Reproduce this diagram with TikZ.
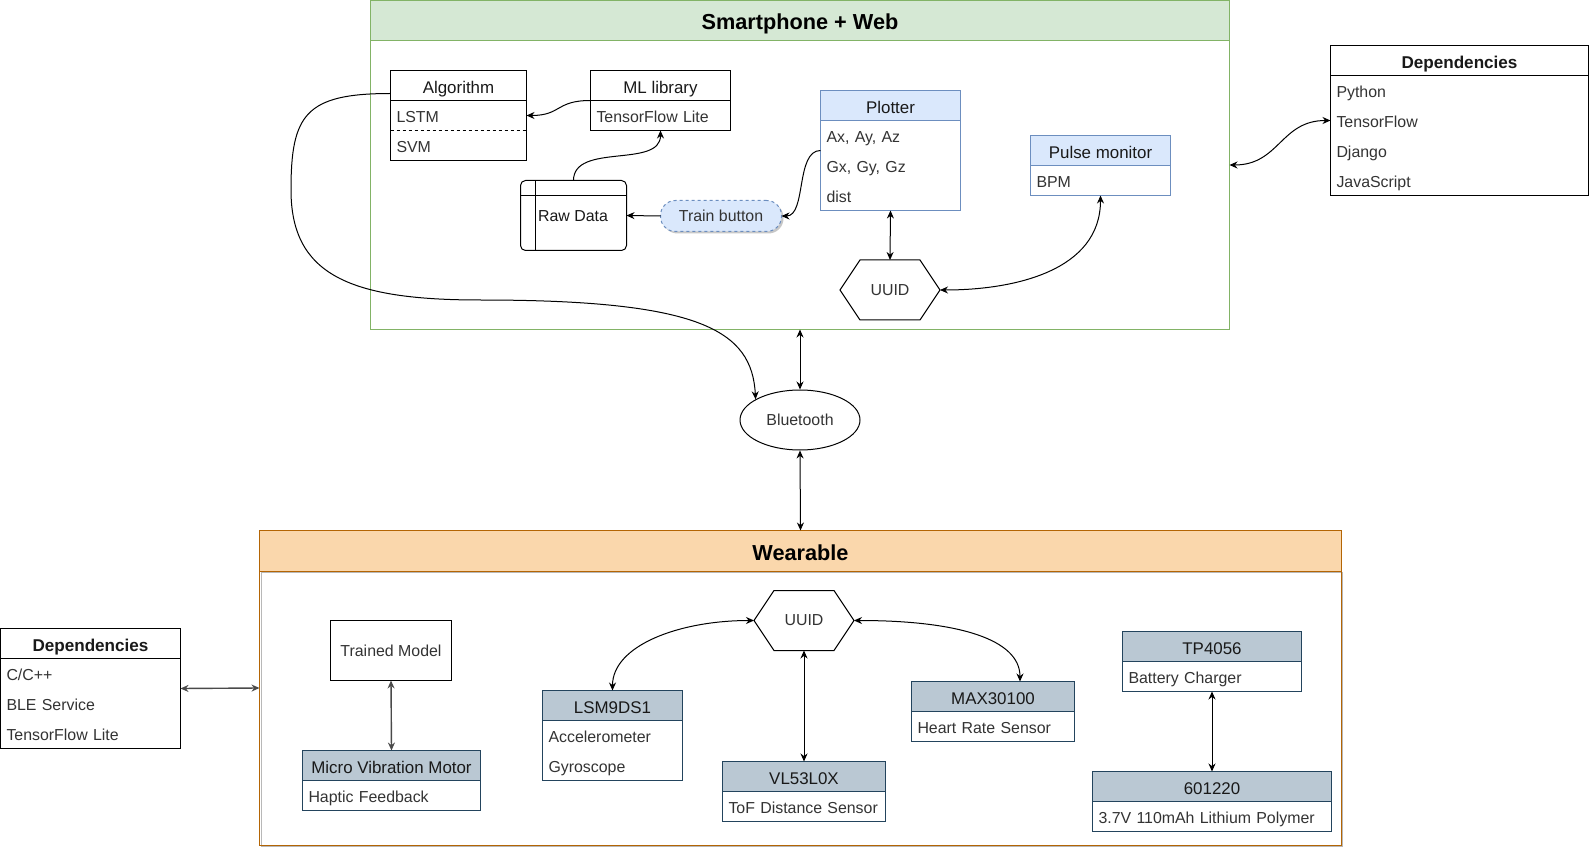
\documentclass[tikz,border=0pt]{standalone}
\usepackage{fontspec}
\setmainfont{Liberation Sans}
\usetikzlibrary{shapes.geometric,arrows.meta,calc}
\definecolor{grnF}{HTML}{D5E8D4}
\definecolor{grnS}{HTML}{82B366}
\definecolor{bluF}{HTML}{DAE8FC}
\definecolor{bluS}{HTML}{6C8EBF}
\definecolor{orgF}{HTML}{FAD7AC}
\definecolor{orgS}{HTML}{B46504}
\definecolor{gbF}{HTML}{BAC8D3}
\definecolor{gbS}{HTML}{23445D}
\definecolor{txtc}{HTML}{333333}
\definecolor{arrg}{HTML}{4A4A4A}
\newcommand{\mkbox}[8]{%
  \node[outerbox, draw=#6, minimum width=#4pt, minimum height=#5pt] (#1) at (#2,#3) {};
  \node[hdrbox, draw=#6, fill=#7, minimum width=#4pt] (#1h) at (#2,#3) {#8};
}
\begin{document}
\begin{tikzpicture}[x=1pt,y=-1pt,
  outerbox/.style={rectangle, anchor=north west, inner sep=0pt, outer sep=0pt, line width=1pt},
  hdrbox/.style={rectangle, anchor=north west, inner sep=0pt, outer sep=0pt, minimum height=30pt, line width=1pt, font=\fontsize{16.9}{19}\selectfont, text=black!90, text height=16pt, text depth=0pt},
  rowtx/.style={rectangle, anchor=north west, inner xsep=6pt, inner ysep=0pt, outer sep=0pt, minimum height=30pt, text width=#1, align=left, font=\fontsize{15.9}{18}\selectfont, text=txtc, text height=13.5pt, text depth=0pt},
  lbl/.style={font=\fontsize{15.9}{18}\selectfont, text=txtc, inner sep=0pt},
  ttl/.style={font=\fontsize{21.7}{26}\selectfont\bfseries, text=black, text height=18pt, text depth=0pt},
  arr/.style={line width=1pt, -{Stealth[length=8pt,width=7pt]}},
  barr/.style={line width=1pt, {Stealth[length=8pt,width=7pt]}-{Stealth[length=8pt,width=7pt]}}
]
\useasboundingbox (0,0) rectangle (1591,850);

% ---------- Smartphone + Web container ----------
\node[outerbox, draw=grnS, minimum width=859pt, minimum height=329pt] (sp) at (370.5,0.5) {};
\node[outerbox, draw=grnS, fill=grnF, minimum width=859pt, minimum height=40pt, ttl] (sph) at (370.5,0.5) {Smartphone + Web};

% Algorithm
\mkbox{alg}{390.5}{70.5}{136}{90}{black}{white}{Algorithm}
\node[rowtx=124pt] (algr1) at (algh.south west) {LSTM};
\node[rowtx=124pt] (algr2) at (algr1.south west) {SVM};
\draw[line width=1pt, dash pattern=on 3pt off 3pt] (algr1.south west) -- (algr1.south east);

% ML library
\mkbox{ml}{590.5}{70.5}{140}{60}{black}{white}{ML library}
\node[rowtx=128pt] (mlr1) at (mlh.south west) {TensorFlow Lite};

% Plotter
\mkbox{plot}{820.5}{90.5}{140}{120}{bluS}{bluF}{Plotter}
\node[rowtx=128pt] (plotr1) at (ploth.south west) {Ax, Ay, Az};
\node[rowtx=128pt] (plotr2) at (plotr1.south west) {Gx, Gy, Gz};
\node[rowtx=128pt] (plotr3) at (plotr2.south west) {dist};

% Pulse monitor
\mkbox{pulse}{1030.5}{135.5}{140}{60}{bluS}{bluF}{Pulse monitor}
\node[rowtx=128pt] (pulser1) at (pulseh.south west) {BPM};

% Raw Data
\node[outerbox, draw, rounded corners=5pt, minimum width=106pt, minimum height=70pt] (raw) at (520.5,180.5) {};
\draw[line width=1pt] ($(raw.north west)+(15,0)$) -- ($(raw.south west)+(15,0)$);
\draw[line width=1pt] ($(raw.north west)+(0,15)$) -- ($(raw.north east)+(0,15)$);
\node[lbl, text=black!90] (rawl) at (573,216) {Raw Data};

% Train button
\node[outerbox, fill=black!22, rounded corners=15pt, minimum width=121pt, minimum height=31pt] (trainsh) at (662.5,202.5) {};
\node[outerbox, fill=bluF, draw=bluS, dash pattern=on 3pt off 3pt, rounded corners=15pt, minimum width=121pt, minimum height=31pt, lbl] (train) at (660.5,200.5) {Train button};

% UUID (phone)
\node[minimum width=100pt, minimum height=60pt, inner sep=0pt, outer sep=0pt, lbl] (uuid1) at (890,290) {UUID};
\draw[line width=1pt] (uuid1.west) -- ($(uuid1.north west)+(20,0)$) -- ($(uuid1.north east)+(-20,0)$) -- (uuid1.east) -- ($(uuid1.south east)+(-20,0)$) -- ($(uuid1.south west)+(20,0)$) -- cycle;

% Dependencies (right)
\mkbox{rdep}{1330.5}{45.5}{258}{150}{black}{white}{\textbf{\fontsize{17.1}{19}\selectfont Dependencies}}
\node[rowtx=246pt] (rdepr1) at (rdeph.south west) {Python};
\node[rowtx=246pt] (rdepr2) at (rdepr1.south west) {TensorFlow};
\node[rowtx=246pt] (rdepr3) at (rdepr2.south west) {Django};
\node[rowtx=246pt] (rdepr4) at (rdepr3.south west) {JavaScript};

% Bluetooth
\node[ellipse, draw, line width=1pt, minimum width=120pt, minimum height=60pt, inner sep=0pt, lbl] (bt) at (800,420) {Bluetooth};

% ---------- Wearable container ----------
\draw[line width=1pt, draw=black!28] (261.5,572.5) rectangle (1342.5,846.5);
\node[outerbox, draw=orgS, minimum width=1082pt, minimum height=315pt] (wear) at (259.5,530.5) {};
\node[outerbox, draw=orgS, fill=orgF, minimum width=1082pt, minimum height=41pt, ttl] (wearh) at (259.5,530.5) {Wearable};

% Trained Model
\node[outerbox, draw=black, minimum width=121pt, minimum height=60pt, lbl] (tm) at (330.5,620.5) {Trained Model};

% Micro Vibration Motor
\mkbox{mvm}{302.5}{750.5}{178}{60}{gbS}{gbF}{Micro Vibration Motor}
\node[rowtx=166pt] (mvmr1) at (mvmh.south west) {Haptic Feedback};

% LSM9DS1
\mkbox{lsm}{542.5}{690.5}{140}{90}{gbS}{gbF}{LSM9DS1}
\node[rowtx=128pt] (lsmr1) at (lsmh.south west) {Accelerometer};
\node[rowtx=128pt] (lsmr2) at (lsmr1.south west) {Gyroscope};

% VL53L0X
\mkbox{vl}{722.5}{761.5}{163}{60}{gbS}{gbF}{VL53L0X}
\node[rowtx=151pt] (vlr1) at (vlh.south west) {ToF Distance Sensor};

% MAX30100
\mkbox{max}{911.5}{681.5}{163}{60}{gbS}{gbF}{MAX30100}
\node[rowtx=151pt] (maxr1) at (maxh.south west) {Heart Rate Sensor};

% TP4056
\mkbox{tp}{1122.5}{631.5}{179}{60}{gbS}{gbF}{TP4056}
\node[rowtx=167pt] (tpr1) at (tph.south west) {Battery Charger};

% 601220
\mkbox{bat}{1092.5}{771.5}{239}{60}{gbS}{gbF}{601220}
\node[rowtx=227pt] (batr1) at (bath.south west) {3.7V 110mAh Lithium Polymer};

% UUID (wearable)
\node[minimum width=100pt, minimum height=60pt, inner sep=0pt, outer sep=0pt, lbl] (uuid2) at (804,620.5) {UUID};
\draw[line width=1pt] (uuid2.west) -- ($(uuid2.north west)+(20,0)$) -- ($(uuid2.north east)+(-20,0)$) -- (uuid2.east) -- ($(uuid2.south east)+(-20,0)$) -- ($(uuid2.south west)+(20,0)$) -- cycle;

% Dependencies (left)
\mkbox{ldep}{0.5}{628.5}{180}{120}{black}{white}{\textbf{\fontsize{17.1}{19}\selectfont Dependencies}}
\node[rowtx=168pt] (ldepr1) at (ldeph.south west) {C/C++};
\node[rowtx=168pt] (ldepr2) at (ldepr1.south west) {BLE Service};
\node[rowtx=168pt] (ldepr3) at (ldepr2.south west) {TensorFlow Lite};

% ---------- Connectors ----------
\draw[arr] (mlh.south west) .. controls +(-35,0) and +(35,0) .. (algr1.east);
\draw[arr] (raw.north) .. controls +(0,-38) and +(0,38) .. (ml.south);
\draw[arr] (train.west) -- (raw.east);
\draw[arr] (plotr1.south west) .. controls +(-25,0) and +(25,0) .. (train.east);
\draw[barr] (plot.south) -- (uuid1.north);
\draw[barr] (pulse.south) .. controls +(0,75) and +(75,0) .. (uuid1.east);
\coordinate (algout) at ($(algh.south west)+(0,-7)$);
\draw[arr] (algout) .. controls (305,93.5) and (291,115) .. (291,190) .. controls (291,275) and (350,300) .. (480,300) .. controls (700,300) and (752,330) .. (bt.155);
\draw[barr] (sp.south) -- (bt.north);
\draw[barr] (bt.south) -- (wear.north);
\draw[barr] (sp.east) .. controls +(50,0) and +(-50,0) .. (rdepr2.west);
\draw[barr, arrg, line width=1.4pt] (ldep.east) -- (wear.west);
\draw[barr, arrg, line width=1.4pt] (tm.south) -- (mvm.north);
\draw[barr] (uuid2.west) .. controls +(-75,0) and +(0,-45) .. (lsm.north);
\coordinate (maxin) at ($(max.north)+(27,0)$);
\draw[barr] (uuid2.east) .. controls +(105,0) and +(0,-42) .. (maxin);
\draw[barr] (uuid2.south) -- (vl.north);
\draw[barr] (tp.south) -- (bat.north);
\end{tikzpicture}
\end{document}
